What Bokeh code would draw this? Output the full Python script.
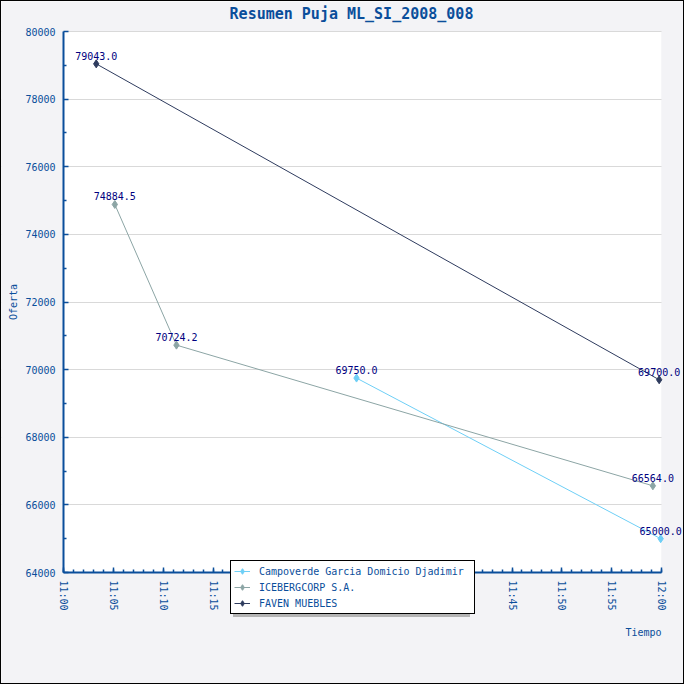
from datetime import datetime
from bokeh.plotting import figure
from bokeh.models import (ColumnDataSource, FixedTicker, DatetimeTickFormatter, NumeralTickFormatter,
                          Legend, LegendItem, LabelSet, Label, Range1d, BoxAnnotation)
from bokeh.core.properties import value
from bokeh.embed import file_html
from bokeh.resources import INLINE

# ---------------- data ----------------
title_text = "Resumen Puja ML_SI_2008_008"
x_label = "Tiempo"
y_label = "Oferta"
day = "2008-01-01"
series_names = ["Campoverde Garcia Domicio Djadimir", "ICEBERGCORP S.A.", "FAVEN MUEBLES"]
camp_times = ["11:29:24", "11:59:55"]
camp_values = [69750.0, 65000.0]
ice_times = ["11:05:09", "11:11:20", "11:59:08"]
ice_values = [74884.5, 70724.2, 66564.0]
faven_times = ["11:03:17", "11:59:46"]
faven_values = [79043.0, 69700.0]
x_start = "11:00:00"
x_end = "12:00:00"
x_tick_labels = ["11:00", "11:05", "11:10", "11:15", "11:20", "11:25", "11:30",
                 "11:35", "11:40", "11:45", "11:50", "11:55", "12:00"]
# tick labels that lie under the legend box in the reference
hidden_tick_labels = ["11:20", "11:25", "11:30", "11:35", "11:40"]
y_ticks = [64000, 66000, 68000, 70000, 72000, 74000, 76000, 78000, 80000]

# ---------------- styles / layout ----------------
BLUE = "#0A4E9B"
BG = "#F3F3F6"
LABEL_C = "#000080"
colors = ["#6ECFF6", "#8CA5A5", "#2E3B5E"]
MONO = "DejaVu Sans Mono"
W = H = 684
LEFT, TOP = 62, 30            # visible plot-area left / top (px)
AREA_W, AREA_H = 598, 541     # visible plot-area size (px)
TITLE_CX, TITLE_CY = 350, 12  # title centre (px)


def t(s):
    fmt = "%Y-%m-%d %H:%M:%S" if s.count(":") == 2 else "%Y-%m-%d %H:%M"
    return datetime.strptime(day + " " + s, fmt)


def ms(dt):
    return (dt - datetime(1970, 1, 1)).total_seconds() * 1000.0


x0, x1 = ms(t(x_start)), ms(t(x_end))
y0, y1 = y_ticks[0], y_ticks[-1]
# the frame covers the whole canvas; the visible plot area is a part of it
xr_start = x0 - (x1 - x0) * LEFT / AREA_W
xr_end = x1 + (x1 - x0) * (W - LEFT - AREA_W) / AREA_W
yr_end = y1 + (y1 - y0) * TOP / AREA_H
yr_start = y0 - (y1 - y0) * (H - TOP - AREA_H) / AREA_H

p = figure(width=W, height=H, x_axis_type="datetime",
           x_range=Range1d(xr_start, xr_end), y_range=Range1d(yr_start, yr_end),
           output_backend="svg", toolbar_location=None,
           min_border_left=0, min_border_right=0, min_border_top=0, min_border_bottom=0)
p.styles = {"border": "1px solid black"}
p.title.visible = False
p.background_fill_color = BG
p.border_fill_color = BG
p.outline_line_color = None

# visible plot area (white) and grey covers for grid lines outside it
p.add_layout(BoxAnnotation(left=x0, right=x1, bottom=y0, top=y1, fill_color="white",
                           fill_alpha=1, line_color=None, level="image"))
p.add_layout(BoxAnnotation(left=x1, fill_color=BG, fill_alpha=1, line_color=None, level="underlay"))
p.add_layout(BoxAnnotation(right=x0, fill_color=BG, fill_alpha=1, line_color=None, level="underlay"))

# title
p.add_layout(Label(x=x0, y=y1, x_offset=TITLE_CX - LEFT, y_offset=TOP - TITLE_CY,
                   text=title_text, text_align="center", text_baseline="middle",
                   text_font=MONO, text_font_size="15px", text_font_style="bold",
                   text_color=BLUE))

# ticks
x_major = [ms(t(s)) for s in x_tick_labels if s not in hidden_tick_labels]
x_minor = [ms(t(x_tick_labels[0])) + 60000.0 * i for i in range(61)]
p.xaxis.ticker = FixedTicker(ticks=x_major, minor_ticks=x_minor)
p.xaxis.formatter = DatetimeTickFormatter(minutes="%H:%M", hourmin="%H:%M", hours="%H:%M",
                                          minsec="%H:%M", seconds="%H:%M")
p.xaxis.major_label_orientation = "vertical"
p.xaxis.fixed_location = y0
p.xaxis.bounds = (x0, x1)
y_minor = [(a + b) / 2 for a, b in zip(y_ticks[:-1], y_ticks[1:])]
p.yaxis.ticker = FixedTicker(ticks=y_ticks, minor_ticks=y_minor)
p.yaxis.formatter = NumeralTickFormatter(format="0")
p.yaxis.fixed_location = x0
p.yaxis.bounds = (y0, y1)

for ax in (p.xaxis[0], p.yaxis[0]):
    ax.axis_line_color = BLUE
    ax.axis_line_width = 2
    ax.major_tick_line_color = BLUE
    ax.major_tick_line_width = 1.5
    ax.minor_tick_line_color = BLUE
    ax.minor_tick_line_width = 1.5
    ax.major_tick_in = 5
    ax.major_tick_out = 0
    ax.minor_tick_in = 3
    ax.minor_tick_out = 0
    ax.major_label_text_color = BLUE
    ax.major_label_text_font = MONO
    ax.major_label_text_font_size = "10px"
    ax.major_label_standoff = 8

p.yaxis.axis_label = y_label
p.yaxis.axis_label_text_font = MONO
p.yaxis.axis_label_text_font_size = "10px"
p.yaxis.axis_label_text_font_style = "normal"
p.yaxis.axis_label_text_color = BLUE
p.yaxis.axis_label_standoff = 3

p.add_layout(Label(x=x1, y=y0, text=x_label, text_align="right", text_baseline="middle",
                   y_offset=-60, text_font=MONO, text_font_size="10px", text_color=BLUE))

p.xgrid.visible = False
p.ygrid.grid_line_color = "#D9D9D9"
p.ygrid.grid_line_width = 1

# series
all_times = [camp_times, ice_times, faven_times]
all_values = [camp_values, ice_values, faven_values]
renderers = []
lx, ly, lt = [], [], []
for name, times, vals, col in zip(series_names, all_times, all_values, colors):
    src = ColumnDataSource(dict(x=[t(s) for s in times], y=vals))
    lr = p.line("x", "y", source=src, line_color=col, line_width=1)
    sr = p.scatter("x", "y", source=src, marker="diamond", size=8,
                   fill_color=col, line_color=col)
    renderers.append((name, lr, sr))
    for s, v in zip(times, vals):
        lx.append(t(s))
        ly.append(v)
        lt.append(f"{v:.1f}")

lab_src = ColumnDataSource(dict(x=lx, y=ly, text=lt))
p.add_layout(LabelSet(x="x", y="y", text="text", source=lab_src, text_align="center",
                      text_baseline="bottom", y_offset=4, text_font=value(MONO),
                      text_font_size=value("10px"), text_color=value(LABEL_C)))


def make_legend(loc, shadow):
    items = [LegendItem(label=(" " if shadow else n), renderers=[a, b]) for n, a, b in renderers]
    lg = Legend(items=items, location=loc, padding=3, spacing=2, glyph_width=16,
                glyph_height=14, label_height=14, label_standoff=9, label_width=212,
                margin=0, label_text_font=MONO, label_text_font_size="10px",
                label_text_color=BLUE)
    if shadow:
        lg.background_fill_color = "#B4B4B4"
        lg.background_fill_alpha = 1
        lg.border_line_color = None
        lg.label_text_alpha = 0
    else:
        lg.background_fill_color = "white"
        lg.background_fill_alpha = 1
        lg.border_line_color = "black"
        lg.border_line_width = 1
        lg.border_line_alpha = 1
    return lg


# legend: left edge 167 px right of the plot-area left, bottom 42 px below the plot-area bottom
lg_x = LEFT + 167
lg_y = H - (TOP + AREA_H + 42)
p.add_layout(make_legend((lg_x + 3, lg_y - 3), True), "center")
p.add_layout(make_legend((lg_x, lg_y), False), "center")

open("out.html", "w").write(file_html(p, INLINE))
